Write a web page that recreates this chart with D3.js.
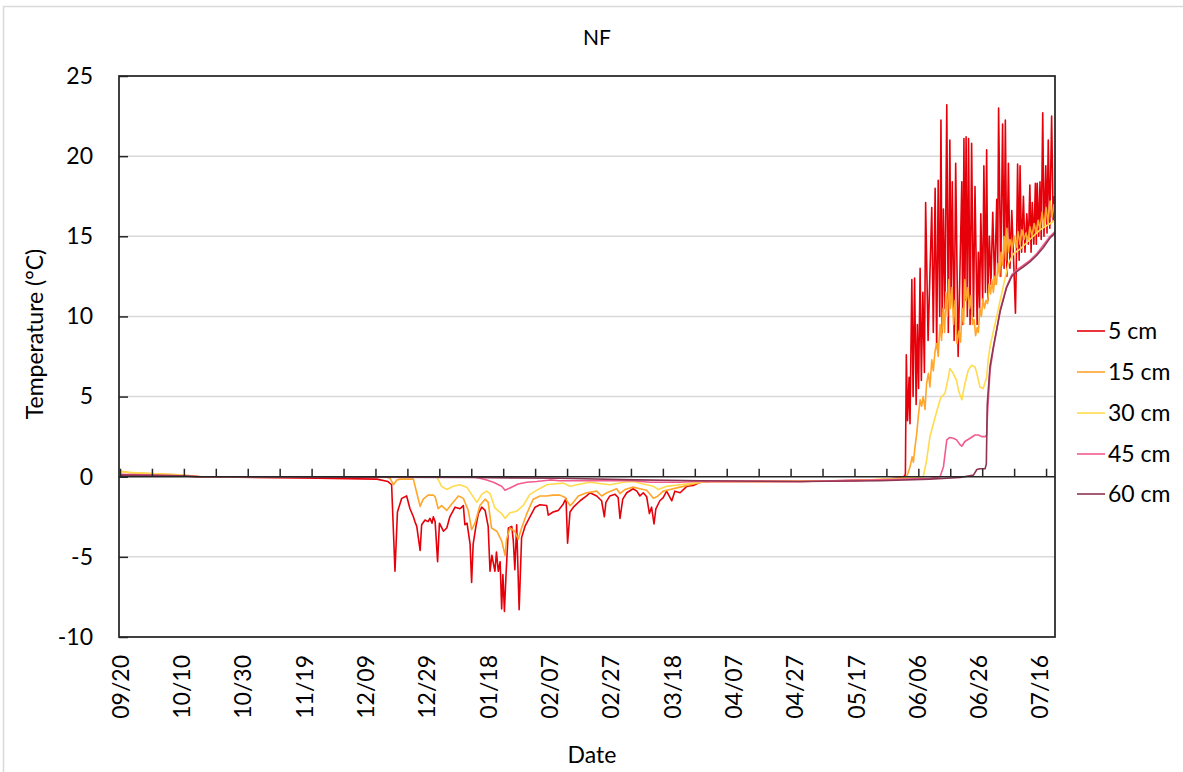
<!DOCTYPE html>
<html><head><meta charset="utf-8">
<script src="https://cdn.jsdelivr.net/npm/d3@7"></script>
<style>
body{margin:0;background:#fff}
text{font-family:Lato,"Open Sans",sans-serif;fill:#000}
</style>
</head><body>
<svg id="chart" width="1183" height="772"></svg>
<script>
// ---------- data ----------
const chartTitle = "NF";
const xTitle = "Date";
const yTitle = "Temperature (°C)";
const seriesNames = ["5 cm", "15 cm", "30 cm", "45 cm", "60 cm"];
const seriesColors = ["#E6000A", "#FFA62B", "#FFDB4D", "#F25C8F", "#8E3553"];
const yTickValues = [-10, -5, 0, 5, 10, 15, 20, 25];
const yTickLabels = ["-10", "-5", "0", "5", "10", "15", "20", "25"];
// x axis: days since 09/20 (2019-09-20), labels every 20 days
const xLabelDays = [0, 20, 40, 60, 80, 100, 120, 140, 160, 180, 200, 220, 240, 260, 280, 300];
const xTickLabels = ["09/20","10/10","10/30","11/19","12/09","12/29","01/18","02/07","02/27","03/18","04/07","04/27","05/17","06/06","06/26","07/16"];
const xTickStepDays = 250 / 24; // tick marks every 250 hours
const xDomainDays = [0, 305];

// [day since 09/20, temperature °C]
const temp5cm = [[0,0.1],[20.6,0.05],[26.1,0],[64.3,-0.1],[83.8,-0.15],[87.4,-0.3],[88.6,-0.5],[89.7,-5.9],[90.5,-2.2],[91.9,-1.35],[93.5,-1.2],[94.6,-2.0],[95.7,-2.5],[96.2,-2.8],[96.8,-3.1],[97.9,-4.6],[98.4,-3.0],[99.5,-2.7],[100.5,-2.8],[101.1,-2.6],[101.8,-2.9],[102.2,-2.5],[102.8,-2.8],[103.6,-5.3],[104.2,-2.9],[105.5,-3.4],[106.6,-3.2],[107.6,-2.5],[109.3,-1.9],[110.9,-2.0],[112.0,-1.8],[112.5,-3.0],[113.2,-2.9],[114.2,-4.2],[114.7,-6.6],[115.2,-4.2],[116.1,-3.1],[116.9,-2.3],[118.0,-1.9],[119.1,-2.1],[120.1,-3.1],[120.7,-5.9],[121.3,-4.9],[122.3,-5.9],[122.8,-4.7],[123.4,-5.9],[124.0,-5.3],[124.5,-8.25],[124.9,-6.1],[125.4,-8.4],[125.9,-6.2],[126.7,-3.2],[127.8,-3.1],[128.3,-4.0],[128.8,-5.8],[129.4,-3.0],[130.2,-8.3],[131.0,-3.8],[132.1,-3.1],[133.2,-2.7],[135.4,-1.9],[137.0,-1.75],[139.2,-1.8],[139.7,-2.4],[141.3,-2.2],[143.0,-2.1],[144.6,-1.7],[145.5,-1.35],[146.0,-4.15],[146.8,-2.2],[147.9,-1.9],[150.1,-1.5],[152.2,-1.2],[153.3,-1.0],[155.5,-1.2],[157.1,-1.5],[158.0,-2.5],[158.5,-1.6],[159.8,-1.2],[161.5,-1.1],[162.5,-1.3],[163.1,-2.6],[164.0,-1.4],[165.3,-1.0],[167.4,-0.75],[168.6,-0.9],[169.6,-1.2],[170.7,-1.0],[171.8,-1.25],[172.7,-2.3],[173.4,-1.9],[174.2,-2.95],[174.8,-2.0],[176.1,-1.5],[177.2,-1.3],[178.3,-0.9],[180.0,-1.5],[181.0,-0.9],[182.7,-1.0],[184.9,-0.6],[187.0,-0.55],[189.2,-0.35],[192.5,-0.3],[195.7,-0.3],[221.8,-0.3],[247.9,-0.2],[255.4,-0.05],[256.1,0.1],[256.2,0.2],[256.5,7.6],[256.9,3.5],[257.4,6.2],[257.7,3.3],[258.3,12.3],[258.7,5],[259.2,12.4],[259.7,4.5],[260.1,9.5],[260.5,5.5],[261.0,13.0],[261.4,6],[261.9,11.5],[262.4,6.5],[262.8,17.1],[263.6,8.5],[264.8,16.8],[265.3,9],[265.9,18.0],[266.4,8],[266.9,18.5],[267.4,10],[267.8,22.25],[268.2,9],[268.6,16.7],[269.1,10.5],[269.7,23.2],[270.2,9],[270.7,21.0],[271.1,11],[271.5,18.4],[272.1,8.5],[272.6,19.55],[273.4,7.5],[274.6,18.4],[274.9,9.5],[275.3,21.1],[275.6,11],[276.0,21.2],[276.4,10],[276.8,21.1],[277.3,9.5],[277.8,20.8],[278.4,10],[278.9,18.1],[279.6,9.5],[280.0,14],[280.4,10.5],[280.8,16.4],[281.4,11],[281.8,19.4],[282.3,11.5],[282.7,20.4],[283.1,11],[283.6,15],[284.1,12],[284.7,16.5],[285.3,12],[286.0,17.3],[286.3,13],[286.6,23.0],[287.3,12.5],[287.9,22.0],[288.4,13],[288.8,22.25],[289.3,12.5],[289.8,19.55],[290.3,13],[290.9,16.6],[291.5,13.5],[292.1,10.2],[292.4,13.5],[292.8,19.5],[293.3,13.5],[293.6,19.4],[294.1,14],[294.7,17.5],[295.2,14],[295.8,16.4],[296.3,14.5],[296.8,18.2],[297.2,14],[297.6,17.1],[298.1,14.5],[298.6,18.3],[298.9,14.5],[299.2,18.3],[299.7,15],[300.1,18.4],[300.5,14.8],[301.0,22.7],[301.4,15],[302.0,19.4],[302.4,15.2],[302.8,21.0],[303.3,15.5],[303.9,22.5],[304.4,16],[304.8,17.5]];

const temp15cm = [[0,0.35],[3.3,0.25],[9.8,0.2],[20.6,0.1],[26.1,0],[86.4,0],[88.1,-0.1],[89.2,-0.5],[90.3,-0.2],[91.3,-0.15],[95.7,-0.15],[96.8,-1.0],[97.9,-1.85],[98.9,-1.4],[100.5,-1.15],[102.2,-1.15],[102.8,-1.25],[103.8,-2.0],[104.9,-1.8],[106.6,-2.1],[108.2,-1.7],[110.4,-1.2],[112.0,-1.35],[113.6,-2.1],[114.7,-3.3],[115.8,-2.9],[117.4,-1.8],[119.1,-1.4],[120.1,-1.6],[121.2,-3.2],[122.9,-3.4],[124.5,-4.0],[125.6,-4.9],[126.1,-3.9],[127.2,-3.2],[128.8,-3.4],[129.9,-3.9],[131.0,-3.2],[132.7,-2.3],[134.8,-1.4],[137.0,-1.2],[139.2,-1.2],[141.2,-1.15],[143.5,-1.15],[145.2,-1.3],[146.8,-1.8],[147.9,-1.6],[149.5,-1.2],[152.2,-1.0],[155.5,-0.9],[157.1,-1.2],[158.8,-1.0],[162.0,-0.75],[163.1,-1.05],[164.7,-0.8],[167.4,-0.65],[169.6,-0.75],[171.8,-0.85],[174.0,-1.35],[175.5,-1.2],[177.2,-0.9],[179.4,-0.8],[182.7,-0.65],[184.9,-0.55],[188.1,-0.4],[191.4,-0.3],[205.5,-0.3],[238.1,-0.25],[251.2,-0.15],[256.4,-0.1],[257.0,0.2],[257.7,0.6],[258.4,1.25],[258.8,0.9],[259.3,1.8],[259.9,2.7],[260.4,3.75],[261.0,4.8],[261.5,4.4],[262.0,5.0],[262.6,4.2],[263.1,5.8],[263.7,6.45],[264.2,5.6],[264.8,7.3],[265.3,6.6],[265.9,7.9],[266.4,8.3],[266.9,7.5],[267.5,9.5],[268.0,8.5],[268.5,10.5],[269.0,9],[269.4,11.5],[269.9,10],[270.4,12.3],[270.9,10.5],[271.4,11.8],[271.9,9.5],[272.4,11],[273.0,8.3],[273.7,9.1],[274.2,8.4],[274.7,10.5],[275.2,9.5],[275.6,12.3],[276.1,11],[276.6,11.8],[277.1,10.5],[277.6,11.3],[278.1,9.5],[278.6,9.8],[279.1,8.8],[279.6,9.3],[280.0,9.0],[280.5,10.5],[281.0,10.0],[281.5,11.1],[282.0,10.5],[282.5,11],[283.0,10.8],[283.5,12],[284.0,11.4],[284.4,12.3],[284.9,11.5],[285.4,12.5],[285.9,12],[286.4,13.3],[286.9,12.5],[287.4,14],[287.9,13.2],[288.4,15.0],[288.9,13.5],[289.3,15.5],[289.8,14],[290.3,14.8],[291.0,14.2],[291.6,15],[292.3,14.3],[292.9,15.3],[293.6,14.5],[294.2,15.4],[294.9,14.8],[295.5,15.2],[296.2,14.7],[296.8,15.6],[297.5,15],[298.2,15.8],[298.8,15.2],[299.5,16],[300.1,15.4],[300.8,16.5],[301.4,15.6],[302.1,16.8],[302.7,15.8],[303.4,17.2],[304.0,16.2],[304.7,17]];

const temp30cm = [[0,0.3],[9.8,0.2],[20.6,0.1],[26.1,0],[103.3,0],[104.9,-0.6],[106.6,-0.8],[108.7,-0.6],[110.9,-0.5],[113.1,-0.65],[114.7,-1.1],[116.4,-1.6],[118.0,-1.1],[119.6,-0.9],[120.7,-1.05],[122.3,-1.95],[124.5,-2.3],[125.6,-2.6],[127.2,-2.25],[129.4,-2.15],[131.5,-1.8],[133.7,-1.1],[135.9,-0.85],[139.2,-0.5],[141.3,-0.45],[144.6,-0.4],[146.8,-0.6],[149.0,-0.5],[153.3,-0.35],[157.7,-0.45],[159.8,-0.5],[164.2,-0.35],[167.4,-0.3],[170.7,-0.45],[174.0,-0.6],[175.6,-0.8],[178.3,-0.6],[182.7,-0.5],[187.0,-0.4],[191.4,-0.3],[205.5,-0.3],[238.1,-0.25],[254.4,-0.1],[262.0,0],[263.1,1.0],[264.2,2.5],[265.3,3.3],[266.4,4.05],[267.5,4.8],[268.0,5.0],[269.1,5.2],[270.2,6.2],[270.7,6.75],[271.8,6.45],[272.9,6.0],[273.5,5.4],[274.6,4.8],[275.6,5.8],[276.7,6.65],[277.8,6.95],[278.9,6.85],[279.5,6.45],[280.5,5.6],[281.6,5.5],[282.7,6.2],[283.2,7.3],[283.8,8.1],[284.8,9.0],[286.0,10.0],[287.1,11.0],[288.1,11.85],[289.8,13.3],[291.4,13.9],[293.6,14.2],[296.8,14.8],[300.1,15.4],[303.4,15.8],[305,16.0]];

const temp45cm = [[0,0.15],[20.6,0.05],[26.1,0],[115.2,0],[117.4,-0.1],[119.6,-0.2],[121.8,-0.35],[124.5,-0.6],[125.6,-0.85],[127.2,-0.7],[129.9,-0.45],[132.7,-0.35],[135.9,-0.3],[140.3,-0.2],[143.5,-0.25],[156.6,-0.25],[167.3,-0.25],[172.9,-0.35],[182.7,-0.35],[189.2,-0.28],[221.8,-0.3],[247.9,-0.2],[264.2,-0.1],[267.5,0],[268.6,0.6],[269.7,2.3],[270.7,2.45],[271.8,2.4],[272.9,2.3],[274.0,2.0],[274.6,1.9],[275.6,2.2],[277.3,2.4],[278.9,2.6],[280.0,2.6],[281.1,2.5],[282.2,2.5],[282.7,2.6],[283.0,4],[283.8,6.6],[284.9,8.0],[286.0,9.2],[287.1,10.4],[289.2,11.85],[290.9,12.6],[292.5,12.9],[294.7,13.2],[296.8,13.5],[299.0,13.9],[301.2,14.45],[303.4,15.0],[305,15.3]];

const temp60cm = [[0,0.1],[20.6,0.05],[26.1,0],[114.2,-0.05],[143.5,-0.1],[168.6,-0.2],[189.2,-0.25],[221.8,-0.3],[247.9,-0.25],[264.2,-0.15],[274.0,-0.05],[278.4,0.1],[279.5,0.45],[280.5,0.5],[282.2,0.5],[282.6,0.8],[282.9,4.5],[283.8,6.9],[284.9,8.1],[286.0,9.2],[287.1,10.3],[289.2,11.8],[290.9,12.5],[292.5,12.8],[294.7,13.1],[296.8,13.4],[299.0,13.8],[301.2,14.3],[303.4,14.9],[305,15.2]];

const seriesData = [temp5cm, temp15cm, temp30cm, temp45cm, temp60cm];

// ---------- drawing ----------
const svg = d3.select("#chart");
const plot = {left: 119, right: 1055, top: 76, bottom: 637};
const x = d3.scaleLinear().domain(xDomainDays).range([120, plot.right]);
const y = d3.scaleLinear().domain([-10, 25]).range([plot.bottom, plot.top]);

// outer chart border
svg.append("rect").attr("x", 3.5).attr("y", 6.5).attr("width", 1190).attr("height", 780)
  .attr("fill", "none").attr("stroke", "#d9d9d9").attr("stroke-width", 1.5);

// gridlines
svg.append("g").selectAll("line").data(yTickValues.filter(v => v !== 0 && v !== 25 && v !== -10))
  .join("line")
  .attr("x1", plot.left).attr("x2", plot.right)
  .attr("y1", d => y(d)).attr("y2", d => y(d))
  .attr("stroke", "#d9d9d9").attr("stroke-width", 1.5);

// y axis (inside ticks)
const yAxis = svg.append("g").attr("transform", `translate(${plot.left},0)`)
  .call(d3.axisLeft(y).tickValues(yTickValues).tickSize(-9).tickPadding(26)
    .tickFormat((d, i) => yTickLabels[i]));
yAxis.select(".domain").remove();
yAxis.selectAll(".tick line").attr("stroke", "#262626").attr("stroke-width", 1.5);
yAxis.selectAll(".tick text").attr("font-size", 23).attr("font-family", "Lato").attr("fill", "#000");

// x tick labels at bottom, rotated
const xLabAxis = svg.append("g").attr("transform", `translate(0,${plot.bottom})`)
  .call(d3.axisBottom(x).tickValues(xLabelDays).tickSize(0).tickFormat((d, i) => xTickLabels[i]));
xLabAxis.select(".domain").remove();
xLabAxis.selectAll(".tick text")
  .attr("transform", "rotate(-90)")
  .attr("x", -18).attr("y", 0).attr("dy", "0.36em")
  .attr("text-anchor", "end")
  .attr("font-size", 23).attr("font-family", "Lato").attr("fill", "#000");

// series lines
const line = d3.line().x(d => x(d[0])).y(d => y(d[1]));
svg.append("clipPath").attr("id", "clip").append("rect")
  .attr("x", plot.left).attr("y", plot.top).attr("width", plot.right - plot.left).attr("height", plot.bottom - plot.top);
svg.append("g").attr("clip-path", "url(#clip)")
  .selectAll("path").data(seriesData).join("path")
  .attr("d", line)
  .attr("fill", "none")
  .attr("stroke", (d, i) => seriesColors[i])
  .attr("stroke-width", 1.6)
  .attr("stroke-linejoin", "round");

// x axis at zero with upward ticks every 250 h
const xTickVals = d3.range(0, xDomainDays[1], xTickStepDays);
const xAxis = svg.append("g").attr("transform", `translate(0,${y(0)})`)
  .call(d3.axisTop(x).tickValues(xTickVals).tickSize(8).tickFormat(""));
xAxis.select(".domain").attr("d", `M${plot.left},0H${plot.right}`).attr("stroke", "#262626").attr("stroke-width", 1.5);
xAxis.selectAll(".tick line").attr("stroke", "#262626").attr("stroke-width", 1.5);

// plot frame
svg.append("rect").attr("x", plot.left).attr("y", plot.top)
  .attr("width", plot.right - plot.left).attr("height", plot.bottom - plot.top)
  .attr("fill", "none").attr("stroke", "#262626").attr("stroke-width", 1.75);

// titles
svg.append("text").attr("x", 597).attr("y", 45).attr("text-anchor", "middle")
  .attr("font-size", 21).text(chartTitle);
svg.append("text").attr("x", 592).attr("y", 763).attr("text-anchor", "middle")
  .attr("font-size", 23).text(xTitle);
svg.append("text").attr("transform", "translate(43,334) rotate(-90)").attr("text-anchor", "middle")
  .attr("font-size", 23).text(yTitle);

// legend
const legendY = [331, 372, 413, 454, 494];
const lg = svg.append("g").selectAll("g").data(seriesNames).join("g")
  .attr("transform", (d, i) => `translate(1077,${legendY[i]})`);
lg.append("line").attr("x1", 0).attr("x2", 28).attr("y1", 0).attr("y2", 0)
  .attr("stroke", (d, i) => seriesColors[i]).attr("stroke-width", 1.6);
lg.append("text").attr("x", 31).attr("y", 0).attr("dy", "0.35em")
  .attr("font-size", 23).text(d => d);
</script>
</body></html>
